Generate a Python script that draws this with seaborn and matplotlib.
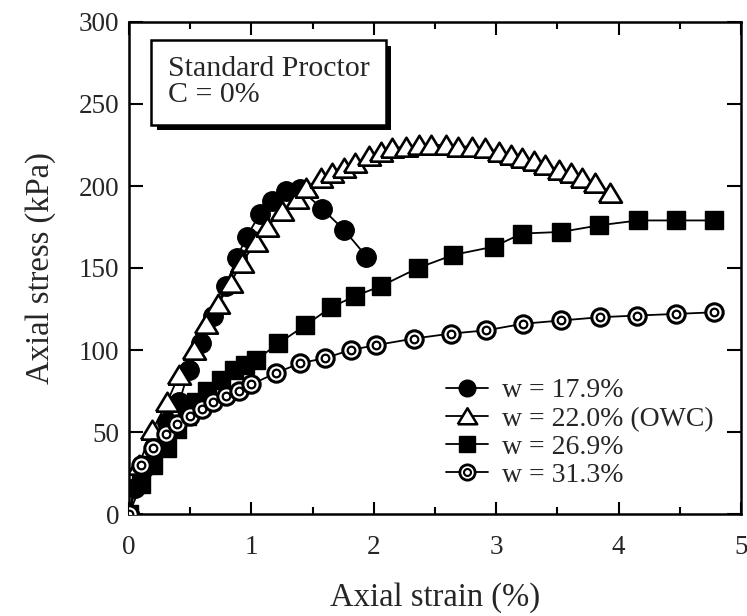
import numpy as np
import matplotlib
matplotlib.use("Agg")
import matplotlib.pyplot as plt
import seaborn as sns
from matplotlib.lines import Line2D
from matplotlib.legend_handler import HandlerTuple
from matplotlib.ticker import MultipleLocator
import matplotlib.patheffects as pe

# ---- data ----
strain_179 = [0, 0.05, 0.12, 0.21, 0.31, 0.41, 0.49, 0.59, 0.69, 0.79, 0.88, 0.96,
              1.07, 1.17, 1.28, 1.40, 1.58, 1.76, 1.94]
stress_179 = [0, 16, 28, 42, 56, 68, 88, 104, 121, 139, 156, 169,
              183, 191, 197, 198, 186, 173, 157]

strain_220 = [0, 0.08, 0.19, 0.31, 0.41, 0.53, 0.63, 0.73, 0.83, 0.92, 1.04, 1.13,
              1.25, 1.37, 1.45, 1.57, 1.66, 1.76, 1.85, 1.96, 2.06, 2.15, 2.26, 2.37,
              2.47, 2.59, 2.69, 2.80, 2.91, 3.02, 3.12, 3.21, 3.31, 3.40, 3.51, 3.61,
              3.70, 3.81, 3.93]
stress_220 = [0, 30, 51, 68, 85, 100, 116, 128, 141, 153, 166, 175,
              185, 192, 199, 205, 208, 211, 214, 218, 221, 223, 224, 225,
              225, 225, 224, 224, 223, 221, 219, 217, 215, 213, 210, 208,
              205, 202, 196]

strain_269 = [0, 0.1, 0.2, 0.31, 0.39, 0.47, 0.55, 0.64, 0.75, 0.86, 0.95, 1.04,
              1.22, 1.44, 1.65, 1.85, 2.06, 2.36, 2.65, 2.98, 3.21, 3.53, 3.84,
              4.16, 4.47, 4.78]
stress_269 = [0, 18, 30, 40, 52, 60, 68, 75, 82, 88, 91, 94,
              104, 115, 126, 133, 139, 150, 158, 163, 171, 172, 176,
              179, 179, 179]

strain_313 = [0, 0.1, 0.2, 0.3, 0.39, 0.5, 0.6, 0.69, 0.79, 0.9, 1.0, 1.2, 1.4,
              1.6, 1.81, 2.02, 2.33, 2.63, 2.92, 3.22, 3.53, 3.85, 4.15, 4.47, 4.78]
stress_313 = [0, 30, 40, 49, 55, 60, 64, 68, 72, 75, 79, 86, 92,
              95, 100, 103, 107, 110, 112, 116, 118, 120, 121, 122, 123]

labels = ["w = 17.9%", "w = 22.0% (OWC)", "w = 26.9%", "w = 31.3%"]
x_label = "Axial strain (%)"
y_label = "Axial stress (kPa)"
box_text = "Standard Proctor\nC = 0%"

# ---- style ----
sns.set_style("ticks")
plt.rcParams["font.family"] = ["Liberation Serif", "DejaVu Serif"]
plt.rcParams["mathtext.fontset"] = "stix"

W, H = 747, 616
fig = plt.figure(figsize=(W / 100, H / 100), dpi=100)
ax = fig.add_axes([129 / W, 1 - 514 / H, 612 / W, 492 / H])

tri = [(-1, -0.8), (1, -0.8), (0, 0.85), (-1, -0.8)]
lw = 1.3

sns.lineplot(x=strain_179, y=stress_179, ax=ax, sort=False, color="black", lw=lw,
             marker="o", markersize=14, markerfacecolor="black",
             markeredgecolor="black", markeredgewidth=1, zorder=2)
sns.lineplot(x=strain_220, y=stress_220, ax=ax, sort=False, color="black", lw=lw,
             marker=tri, markersize=16.5, markerfacecolor="white",
             markeredgecolor="black", markeredgewidth=1.9, zorder=3)
sns.lineplot(x=strain_269, y=stress_269, ax=ax, sort=False, color="black", lw=lw,
             marker="s", markersize=13, markerfacecolor="black",
             markeredgecolor="black", markeredgewidth=1, zorder=4)
sns.lineplot(x=strain_313, y=stress_313, ax=ax, sort=False, color="black", lw=lw,
             marker="o", markersize=12.5, markerfacecolor="white",
             markeredgecolor="black", markeredgewidth=2.2, zorder=5)
sns.lineplot(x=strain_313, y=stress_313, ax=ax, sort=False, color="black", lw=0,
             marker="o", markersize=5.5, markerfacecolor="white",
             markeredgecolor="black", markeredgewidth=1.6, zorder=6)

ax.set_xlim(0, 5)
ax.set_ylim(0, 300)
ax.xaxis.set_major_locator(MultipleLocator(1))
ax.xaxis.set_minor_locator(MultipleLocator(0.5))
ax.yaxis.set_major_locator(MultipleLocator(50))
ax.tick_params(axis="both", which="both", direction="in", top=True, right=True,
               color="black", width=1.5)
ax.tick_params(axis="x", which="major", length=9, labelsize=19.5, pad=15)
ax.tick_params(axis="x", which="minor", length=5)
ax.tick_params(axis="y", which="major", length=10, labelsize=19.5, pad=7)
for s in ax.spines.values():
    s.set_linewidth(1.8)
    s.set_color("black")

ax.set_xlabel(x_label, fontsize=23.5, labelpad=16)
ax.set_ylabel(y_label, fontsize=23.5, labelpad=16)

# text box with drop shadow
t = ax.text(0.063, 0.93, box_text, transform=ax.transAxes, fontsize=21.5,
            va="top", ha="left", linespacing=1.0, zorder=10,
            bbox=dict(boxstyle="square,pad=0.55", fc="white", ec="black", lw=1.8))
t.get_bbox_patch().set_path_effects([
    pe.SimplePatchShadow(offset=(4, -4), shadow_rgbFace="black", alpha=1),
    pe.Normal()])

# legend
h1 = Line2D([], [], color="black", lw=lw, marker="o", ms=12, mfc="black", mec="black")
h2 = Line2D([], [], color="black", lw=lw, marker=tri, ms=14, mfc="white", mec="black", mew=1.8)
h3 = Line2D([], [], color="black", lw=lw, marker="s", ms=12, mfc="black", mec="black")
h4a = Line2D([], [], color="black", lw=lw, marker="o", ms=11, mfc="white", mec="black", mew=2)
h4b = Line2D([], [], color="black", lw=0, marker="o", ms=5, mfc="white", mec="black", mew=1.5)
leg = ax.legend([h1, h2, h3, (h4a, h4b)], labels,
                handler_map={tuple: HandlerTuple(ndivide=1)},
                loc="lower left", bbox_to_anchor=(0.5, 0.03), frameon=False,
                fontsize=20, handlelength=1.5, handletextpad=0.5, labelspacing=0.1,
                borderaxespad=0)
leg.set_zorder(20)

fig.savefig("out.png", dpi=100)
